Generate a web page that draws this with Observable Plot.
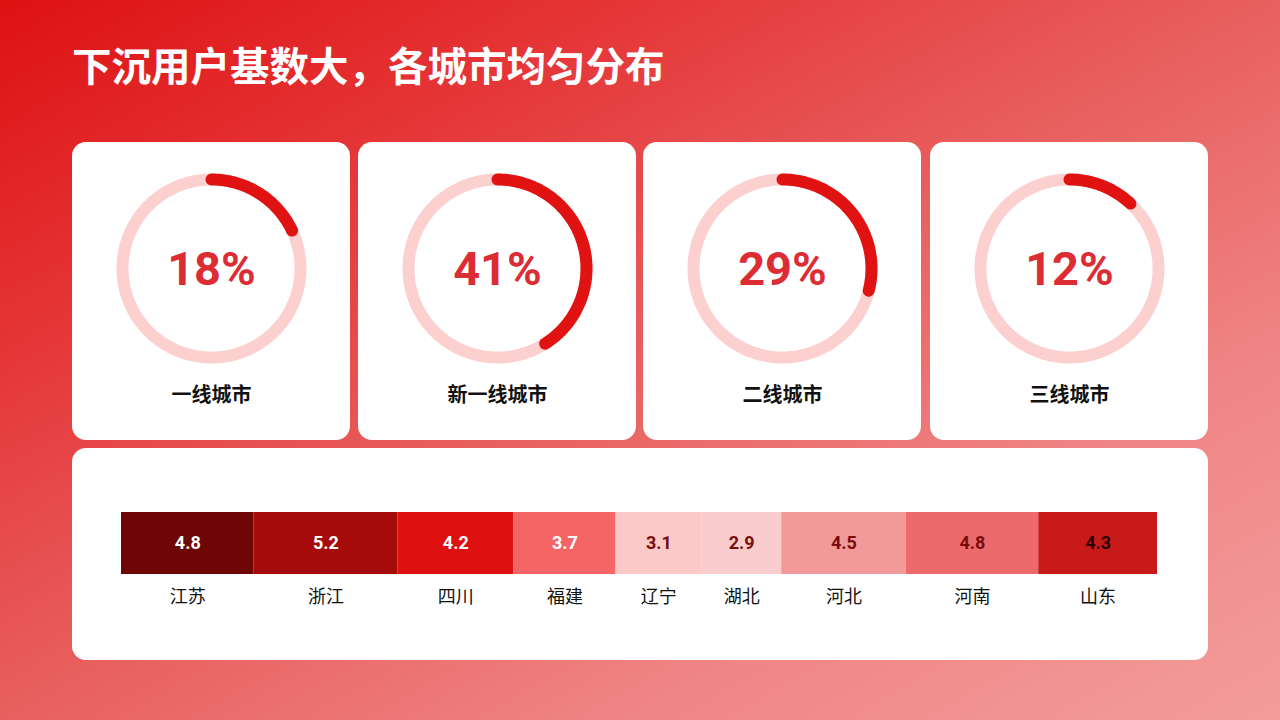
<!DOCTYPE html>
<html>
<head>
<meta charset="utf-8">
<script src="https://cdn.jsdelivr.net/npm/d3@7"></script>
<script src="https://cdn.jsdelivr.net/npm/@observablehq/plot@0.6"></script>
<style>
  html, body { margin: 0; padding: 0; }
  body {
    width: 1280px; height: 720px; overflow: hidden; position: relative;
    background: linear-gradient(to bottom right, #de1111 0%, #e53638 25%, #e8605f 50%, #f08686 75%, #f39c9c 100%);
    font-family: Roboto, "Noto Sans CJK SC", sans-serif;
  }
  #title {
    position: absolute; left: 72px; top: 36px;
    font-family: "Noto Sans CJK SC", sans-serif; font-weight: 700;
    font-size: 39.5px; line-height: 56px; color: #fff;
  }
  .card { position: absolute; background: #fff; border-radius: 14px; overflow: hidden; }
  .card svg { display: block; }
</style>
</head>
<body>
<div id="title">下沉用户基数大，各城市均匀分布</div>
<div id="cards"></div>
<script>
// ---- data ----
const tierNames = ["一线城市", "新一线城市", "二线城市", "三线城市"];
const tierShares = [18, 41, 29, 12];

const provinces = ["江苏", "浙江", "四川", "福建", "辽宁", "湖北", "河北", "河南", "山东"];
const provinceValues = [4.8, 5.2, 4.2, 3.7, 3.1, 2.9, 4.5, 4.8, 4.3];
const provinceColors = ["#6e0606", "#a50b0b", "#de1010", "#f56565", "#fcc9c9", "#f9cdcd", "#f29a9a", "#ec6a6c", "#c91a1a"];
const provinceTextColors = ["#ffffff", "#ffffff", "#ffffff", "#ffffff", "#7a0c0c", "#7a0c0c", "#7a0c0c", "#7a0c0c", "#2a0202"];

const cardLefts = [72, 358, 643, 930];
const container = document.getElementById("cards");
const FONT = 'Roboto, "Noto Sans CJK SC", sans-serif';

// ---- donut cards ----
tierNames.forEach((name, i) => {
  const card = document.createElement("div");
  card.className = "card";
  Object.assign(card.style, {left: cardLefts[i] + "px", top: "142px", width: "278px", height: "298px"});
  const R = 89;
  const ring = d3.range(0, 361, 1).map(a => ({x: R * Math.sin(a * Math.PI / 180), y: R * Math.cos(a * Math.PI / 180)}));
  const end = tierShares[i] / 100 * 360;
  const arc = d3.range(0, end, 1).concat([end]).map(a => ({x: R * Math.sin(a * Math.PI / 180), y: R * Math.cos(a * Math.PI / 180)}));
  const plot = Plot.plot({
    width: 278, height: 298, margin: 0,
    x: {domain: [-139, 139], axis: null},
    y: {domain: [-172, 126], axis: null},
    style: {background: "transparent", fontFamily: FONT},
    marks: [
      Plot.line(ring, {x: "x", y: "y", stroke: "#fdd0d0", strokeWidth: 12}),
      Plot.line(arc, {x: "x", y: "y", stroke: "#e01212", strokeWidth: 12, strokeLinecap: "round"}),
      Plot.text([tierShares[i] + "%"], {x: 0, y: 0, text: d => d, fill: "#dc2c34", fontSize: 47, fontWeight: 700, dy: 1}),
      Plot.text([name], {x: 0, y: -127, text: d => d, fill: "#111", fontSize: 20, fontWeight: 700, fontFamily: '"Noto Sans CJK SC", sans-serif'})
    ]
  });
  card.appendChild(plot);
  container.appendChild(card);
});

// ---- stacked bar card ----
const rows = provinces.map((p, i) => ({name: p, value: provinceValues[i], tc: provinceTextColors[i]}));
const barCard = document.createElement("div");
barCard.className = "card";
Object.assign(barCard.style, {left: "72px", top: "448px", width: "1136px", height: "212px"});
const barPlot = Plot.plot({
  width: 1136, height: 212,
  marginLeft: 49, marginRight: 51, marginTop: 64, marginBottom: 86,
  x: {domain: [0, d3.sum(provinceValues)], axis: null},
  color: {domain: provinces, range: provinceColors},
  style: {background: "transparent", fontFamily: FONT},
  marks: [
    Plot.barX(rows, Plot.stackX({x: "value", fill: "name", order: null})),
    Plot.text(rows, Plot.stackX({x: "value", order: null, text: d => d.value.toFixed(1), fill: "tc", fontSize: 18, fontWeight: 700})),
    Plot.text(rows, Plot.stackX({x: "value", order: null, text: "name", fill: "#111", fontSize: 18, dy: 54, fontFamily: '"Noto Sans CJK SC", sans-serif'}))
  ]
});
barCard.appendChild(barPlot);
container.appendChild(barCard);
</script>
</body>
</html>
